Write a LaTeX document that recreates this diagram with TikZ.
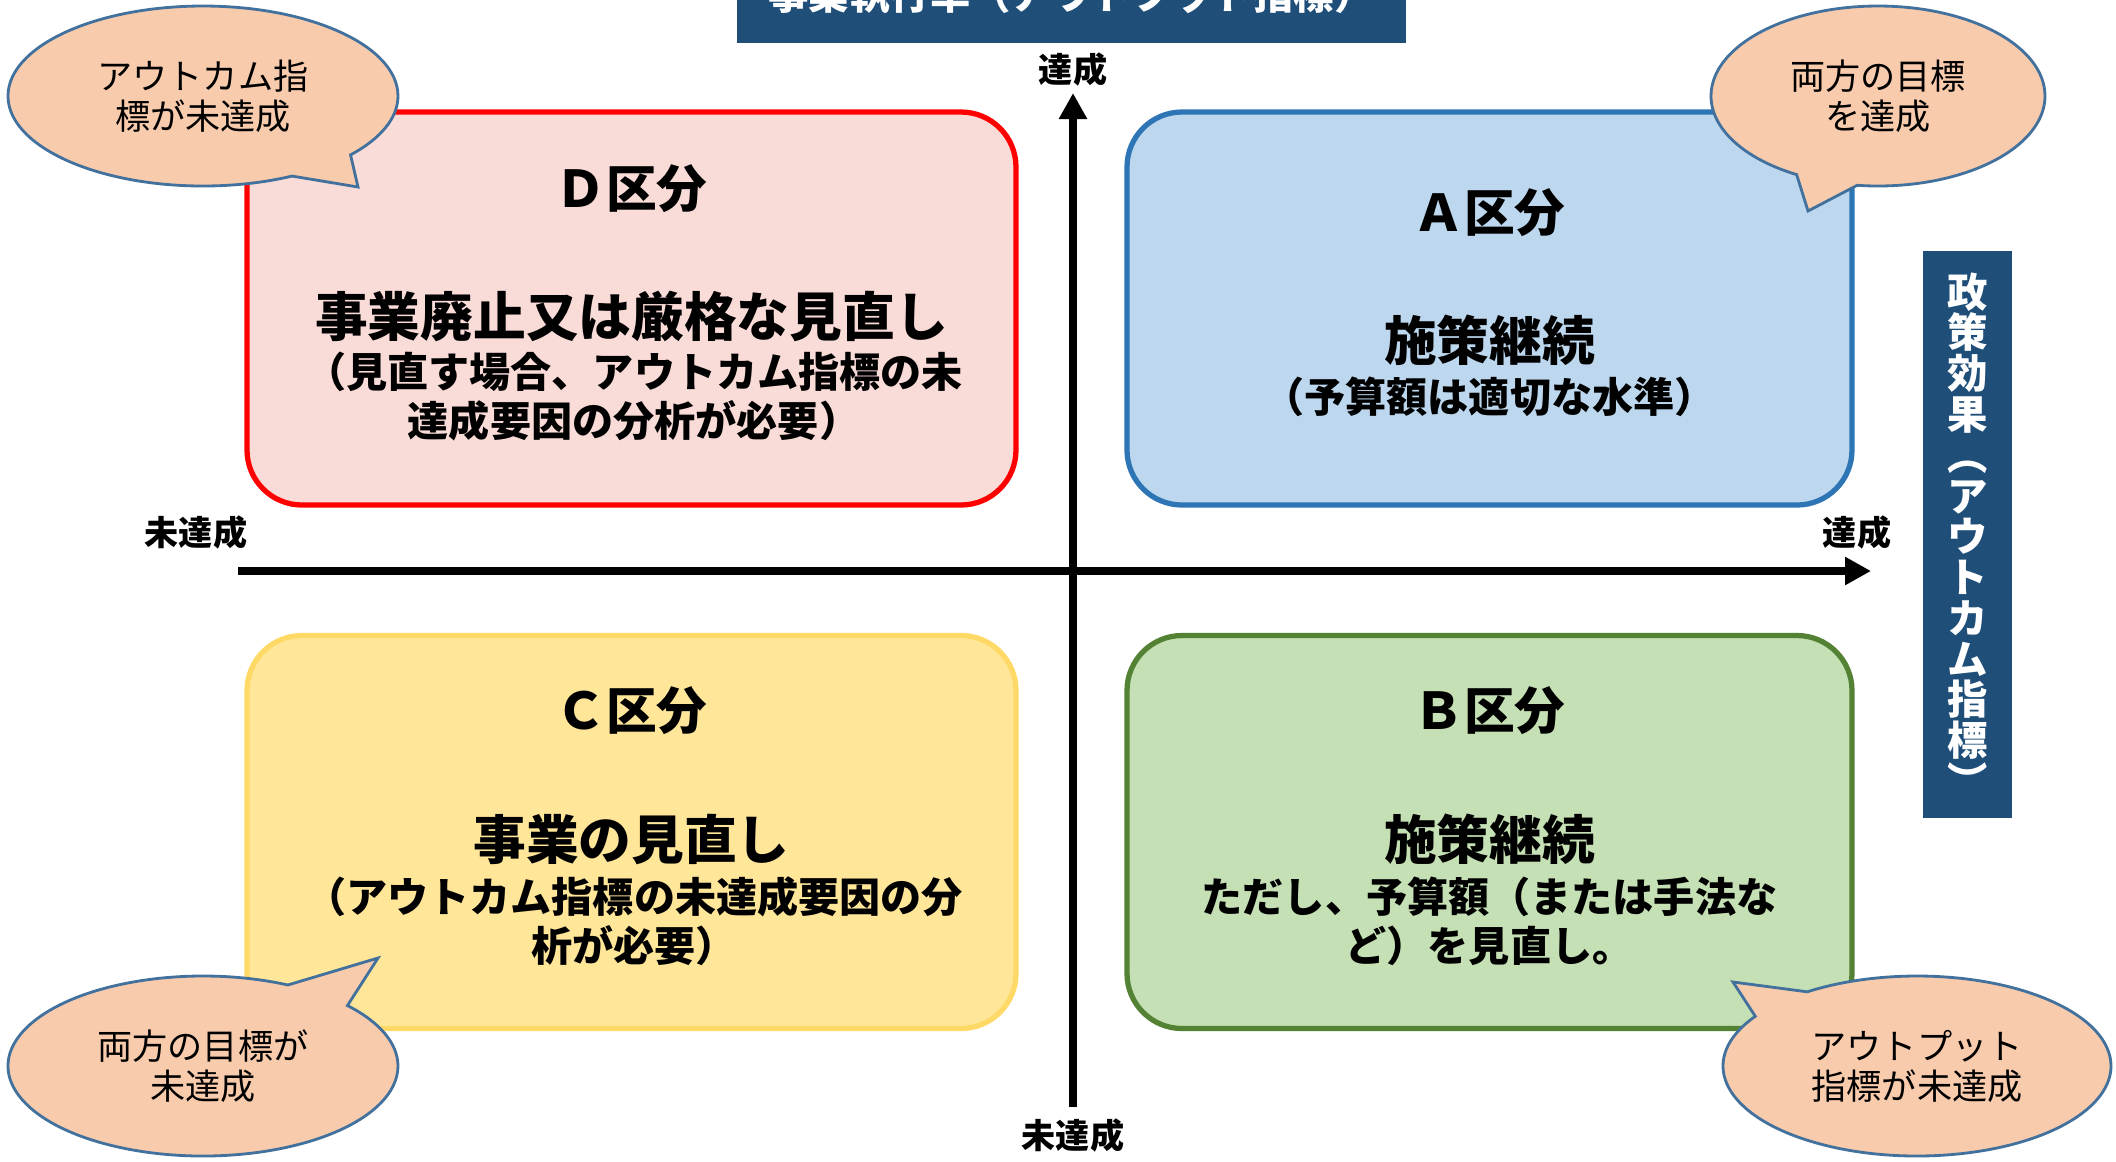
\documentclass[tikz,border=0pt]{standalone}
\usepackage{fontspec}
\setmainfont{Noto Sans CJK JP}
\usetikzlibrary{arrows.meta,shapes.callouts}
\definecolor{bannerblue}{HTML}{1F4E79}
\definecolor{peach}{HTML}{F8CBAD}
\definecolor{peachline}{HTML}{41719C}
\definecolor{dfill}{HTML}{F9DBD8}
\definecolor{dline}{HTML}{FF0000}
\definecolor{afill}{HTML}{BDD7EE}
\definecolor{aline}{HTML}{2E75B6}
\definecolor{cfill}{HTML}{FFE699}
\definecolor{cline}{HTML}{FFD966}
\definecolor{bfill}{HTML}{C5E0B4}
\definecolor{bline}{HTML}{548235}

\tikzset{
  kubun/.style={draw, line width=1.5pt, rounded corners=5.5mm, minimum height=39.3mm},
  kubuntitle/.style={font=\bfseries\fontsize{14.4}{16}\selectfont},
  kubunmain/.style={font=\bfseries\fontsize{15}{17}\selectfont},
  kubunsub/.style={align=center, font=\bfseries\fontsize{11.7}{13.9}\selectfont},
  fukidashi/.style={ellipse callout, draw=peachline, fill=peach, line width=0.8pt,
    minimum width=39mm, minimum height=18mm, callout pointer arc=22, inner sep=0pt,
    align=center, font=\fontsize{10}{11.4}\selectfont},
  banner/.style={fill=bannerblue, text=white, inner sep=0pt, align=center,
    font=\bfseries\fontsize{11.5}{11.6}\selectfont},
  axislabel/.style={font=\bfseries\fontsize{9.7}{11}\selectfont},
  axis/.style={line width=2.2pt, -{Triangle[length=7.4pt,width=7.6pt]}}
}

\begin{document}
\begin{tikzpicture}[x=0.1mm,y=-0.1mm]
\path[use as bounding box, clip] (0,0) rectangle (2116,1161);

% banners
\node[banner, minimum width=66.9mm, minimum height=9.8mm] (topbar) at (1071.5,-6) {事業執行率（アウトプット指標）};
\node[banner, minimum width=8.9mm, minimum height=56.7mm] (sidebar) at (1967.5,534.5)
  {政\\策\\効\\果\\︵\\ア\\ウ\\ト\\カ\\ム\\指\\標\\︶};

% axes
\coordinate (xlo) at (238,571);
\coordinate (xhi) at (1871,571);
\coordinate (ylo) at (1073,1107);
\coordinate (yhi) at (1073,93);
\draw[axis] (xlo) -- (xhi);
\draw[axis] (ylo) -- (yhi);
\node[axislabel] (ytop) at (1073,69) {達成};
\node[axislabel] (ybot) at (1073,1135) {未達成};
\node[axislabel] (xleft) at (196,532) {未達成};
\node[axislabel] (xright) at (1857,532) {達成};

% D box
\node[kubun, draw=dline, fill=dfill, minimum width=76.9mm] (boxD) at (631.5,308.5) {};
\node[kubuntitle] (titleD) at (631.5,189) {Ｄ区分};
\node[kubunmain] (mainD) at (631.5,316) {事業廃止又は厳格な見直し};
\node[kubunsub] (subD) at (634,396.5) {（見直す場合、アウトカム指標の未\\達成要因の分析が必要）};

% A box
\node[kubun, draw=aline, fill=afill, minimum width=72.5mm] (boxA) at (1489.5,308.5) {};
\node[kubuntitle] (titleA) at (1489.5,213) {Ａ区分};
\node[kubunmain] (mainA) at (1489.5,340) {施策継続};
\node[kubunsub] (subA) at (1489.5,397) {（予算額は適切な水準）};

% C box
\node[kubun, draw=cline, fill=cfill, minimum width=76.9mm] (boxC) at (631.5,832) {};
\node[kubuntitle] (titleC) at (631.5,711) {Ｃ区分};
\node[kubunmain] (mainC) at (631.5,839) {事業の見直し};
\node[kubunsub] (subC) at (634,921) {（アウトカム指標の未達成要因の分\\析が必要）};

% B box
\node[kubun, draw=bline, fill=bfill, minimum width=72.5mm] (boxB) at (1489.5,832) {};
\node[kubuntitle] (titleB) at (1489.5,711) {Ｂ区分};
\node[kubunmain] (mainB) at (1489.5,839) {施策継続};
\node[kubunsub] (subB) at (1489.5,921) {ただし、予算額（または手法な\\ど）を見直し。};

% callouts
\coordinate (tipD) at (358,187);
\coordinate (tipA) at (1808,211);
\coordinate (tipC) at (378,958);
\coordinate (tipB) at (1733,982);
\node[fukidashi, callout absolute pointer={(tipD)}] (noteD) at (203,96) {アウトカム指\\標が未達成};
\node[fukidashi, callout absolute pointer={(tipA)}, minimum width=33.4mm] (noteA) at (1878,96) {両方の目標\\を達成};
\node[fukidashi, callout absolute pointer={(tipC)}] (noteC) at (203,1066) {両方の目標が\\未達成};
\node[fukidashi, callout absolute pointer={(tipB)}, minimum width=38.8mm] (noteB) at (1917,1066) {アウトプット\\指標が未達成};
\end{tikzpicture}
\end{document}
